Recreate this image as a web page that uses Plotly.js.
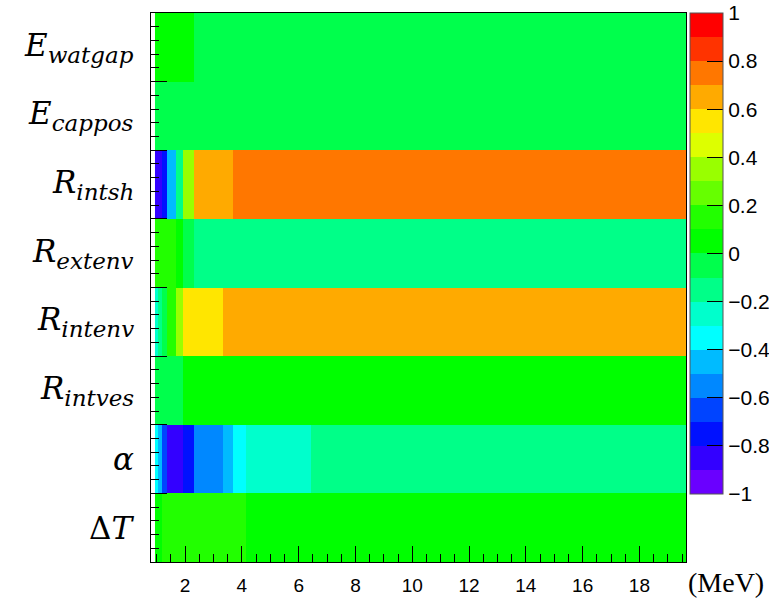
<!DOCTYPE html>
<html>
<head>
<meta charset="utf-8">
<script src="https://cdn.plot.ly/plotly-3.0.1.min.js"></script>
<style>
  html, body { margin: 0; padding: 0; background: #ffffff; }
  #chart { width: 769px; height: 606px; }
</style>
</head>
<body>
<div id="chart"></div>
<script>
// ---- Data ----
// Energy bin edges (MeV)
const energyEdges = [0.94, 1.03, 1.17, 1.36, 1.68, 1.94, 2.33, 3.33, 3.68, 4.15, 6.44, 19.64];

// Parameters, bottom to top
const paramSymbols    = ["Δ<i>T</i>", "<i>α</i>", "<i>R</i>", "<i>R</i>", "<i>R</i>", "<i>R</i>", "<i>E</i>", "<i>E</i>"];
const paramSubscripts = ["", "", "intves", "intenv", "extenv", "intsh", "cappos", "watgap"];

// Correlation values per parameter (one value per energy bin)
const dT       = [0.05, 0.05, 0.15, 0.15, 0.15, 0.15, 0.15, 0.15, 0.15, 0.05, 0.05];
const alpha    = [-0.35, -0.45, -0.65, -0.85, -0.85, -0.75, -0.55, -0.45, -0.35, -0.25, -0.15];
const Rintves  = [-0.05, -0.05, -0.05, -0.05, -0.05, 0.05, 0.05, 0.05, 0.05, 0.05, 0.05];
const Rintenv  = [-0.25, -0.15, -0.05, 0.15, 0.35, 0.55, 0.55, 0.65, 0.65, 0.65, 0.65];
const Rextenv  = [0.15, 0.15, 0.15, 0.15, 0.05, -0.05, -0.15, -0.15, -0.15, -0.15, -0.15];
const Rintsh   = [-0.85, -0.85, -0.75, -0.45, -0.15, 0.35, 0.65, 0.65, 0.75, 0.75, 0.75];
const Ecappos  = [-0.05, -0.05, -0.05, -0.05, -0.05, -0.05, -0.05, -0.05, -0.05, -0.05, -0.05];
const Ewatgap  = [0.05, 0.05, 0.05, 0.05, 0.05, 0.05, -0.05, -0.05, -0.05, -0.05, -0.05];

// Colour bar levels (from -1 to 1, 20 contours)
const levelColors = [
  "#6a00ff", "#3300ff", "#0011ff", "#0044ff", "#0088ff",
  "#00bbff", "#00ffff", "#00ffcc", "#00ff88", "#00ff4c",
  "#00ff00", "#22ff00", "#66ff00", "#99ff00", "#ddff00",
  "#ffe600", "#ffaa00", "#ff7700", "#ff3300", "#ff0000"
];
const cbTickVals = [-1, -0.8, -0.6, -0.4, -0.2, 0, 0.2, 0.4, 0.6, 0.8, 1];
const cbTickText = ["\u22121", "\u22120.8", "\u22120.6", "\u22120.4", "\u22120.2", "0", "0.2", "0.4", "0.6", "0.8", "1"];

// ---- Build ----
const zRows = [dT, alpha, Rintves, Rintenv, Rextenv, Rintsh, Ecappos, Ewatgap];
const rowEdges = [];
for (let i = 0; i <= zRows.length; i++) rowEdges.push(i);

const colorscale = [];
levelColors.forEach((c, i) => {
  colorscale.push([i / levelColors.length, c]);
  colorscale.push([(i + 1) / levelColors.length, c]);
});

// Plot geometry (pixels)
const L = 151, R = 686, T = 12.6, B = 562;
const W = 769, H = 606;
const plotW = R - L;

const trace = {
  type: "heatmap",
  x: energyEdges,
  y: rowEdges,
  z: zRows,
  zmin: -1, zmax: 1,
  zsmooth: false,
  colorscale: colorscale,
  hoverinfo: "skip",
  colorbar: {
    thickness: 33, thicknessmode: "pixels",
    len: 481, lenmode: "pixels",
    x: (690 - L) / plotW, xanchor: "left", xref: "paper",
    y: 1, yanchor: "top", yref: "paper",
    xpad: 0, ypad: 0,
    outlinewidth: 1, outlinecolor: "#555555",
    tickmode: "array", tickvals: cbTickVals, ticktext: cbTickText,
    ticks: "inside", ticklen: 16, tickwidth: 1, tickcolor: "#000000",
    ticklabelstandoff: 3,
    tickfont: { family: "Liberation Sans, Arial, sans-serif", size: 21, color: "#000000" }
  }
};

const annotations = paramSymbols.map((s, i) => ({
  xref: "paper", yref: "y",
  x: (136 - L) / plotW, y: i + 0.5,
  xanchor: "right", yanchor: "middle",
  showarrow: false,
  text: s + (paramSubscripts[i] ? "<sub><span style='font-size:23px'><i>" + paramSubscripts[i] + "</i></span></sub>" : ""),
  font: { family: "DejaVu Serif, serif", size: 31, color: "#000000" }
}));
annotations.push({
  xref: "paper", yref: "paper",
  x: (766 - L) / plotW, y: (B - 583) / (B - T),
  xanchor: "right", yanchor: "middle",
  showarrow: false,
  text: "(MeV)",
  font: { family: "Liberation Serif, serif", size: 28, color: "#000000" }
});

const layout = {
  width: W, height: H,
  margin: { l: L, r: W - R, t: T, b: H - B, pad: 0, autoexpand: false },
  paper_bgcolor: "#ffffff",
  plot_bgcolor: "#ffffff",
  showlegend: false,
  xaxis: {
    range: [0.8, 19.64],
    tickmode: "linear", tick0: 0, dtick: 2,
    ticks: "inside", ticklen: 16, tickwidth: 1, tickcolor: "#000000",
    minor: { tickmode: "linear", tick0: 0, dtick: 0.5, ticks: "inside", ticklen: 8, tickwidth: 1, tickcolor: "#000000", showgrid: false },
    showgrid: false, zeroline: false,
    showline: true, linecolor: "#000000", linewidth: 1, mirror: true,
    ticklabelstandoff: 6,
    tickfont: { family: "Liberation Sans, Arial, sans-serif", size: 19, color: "#000000" }
  },
  yaxis: {
    range: [0, 8],
    tickmode: "linear", tick0: 0, dtick: 1,
    ticks: "inside", ticklen: 16, tickwidth: 1, tickcolor: "#000000",
    minor: { tickmode: "linear", tick0: 0, dtick: 0.2, ticks: "inside", ticklen: 8, tickwidth: 1, tickcolor: "#000000", showgrid: false },
    showticklabels: false,
    showgrid: false, zeroline: false,
    showline: true, linecolor: "#000000", linewidth: 1, mirror: true
  },
  annotations: annotations
};

Plotly.newPlot("chart", [trace], layout, { staticPlot: true, displayModeBar: false });
</script>
</body>
</html>
